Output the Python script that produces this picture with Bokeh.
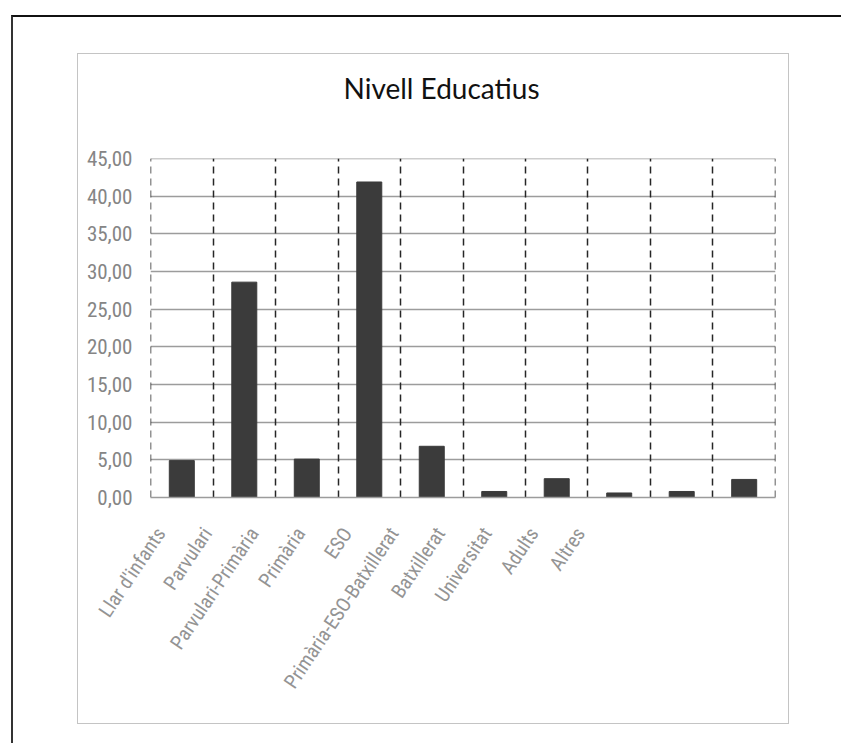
from bokeh.plotting import figure
from bokeh.layouts import column
from bokeh.models import Range1d, FixedTicker, Grid, LinearAxis, Title
from bokeh.embed import file_html
from bokeh.resources import INLINE

title_text = "Nivell Educatius"
categories = ["Llar d'infants", "Parvulari", "Parvulari-Primària", "Primària", "ESO",
              "Primària-ESO-Batxillerat", "Batxillerat", "Universitat", "Adults", "Altres"]
values = [4.9, 28.6, 5.1, 41.9, 6.8, 0.8, 2.5, 0.6, 0.8, 2.4]
y_ticks = [0, 5, 10, 15, 20, 25, 30, 35, 40, 45]

FONT = "'Roboto Condensed', 'Liberation Sans Narrow', 'DejaVu Sans Condensed', sans-serif"
TITLE_FONT = "Lato, 'Open Sans', sans-serif"

n = len(categories)
centers = [i + 0.5 for i in range(n)]
bounds = list(range(n + 1))
label_pos = list(range(n))

p = figure(width=712, height=671, output_backend="svg", toolbar_location=None,
           x_range=Range1d(-0.001, n + 0.001), y_range=Range1d(0, 45.02),
           x_axis_location=None,
           min_border_left=72, min_border_right=15, min_border_top=104, min_border_bottom=228)
# the scanned chart squeezes its category labels to the left of the bars
p.extra_x_ranges = {"labels": Range1d(-0.215, 13.19)}
p.styles = {"border": "1px solid #c4c4c4"}
p.margin = (36, 0, 0, 64)
p.outline_line_color = None

# spacer between title and plot area, then the title itself
p.add_layout(Title(text=" ", text_font_size="1px", standoff=46), "above")
p.add_layout(Title(text=title_text, align="left", offset=193, standoff=10,
                   text_font=TITLE_FONT, text_font_size="28px",
                   text_font_style="normal", text_color="#111111"), "above")

p.vbar(x=centers, top=values, width=0.4, color="#3b3b3b")

# y axis
p.yaxis.ticker = FixedTicker(ticks=y_ticks)
p.yaxis.major_label_overrides = {t: f"{t:.2f}".replace(".", ",") for t in y_ticks}
p.yaxis.major_label_text_font = FONT
p.yaxis.major_label_text_font_size = "21px"
p.yaxis.major_label_text_color = "#858585"
p.yaxis.axis_line_color = None
p.yaxis.major_tick_line_color = None
p.yaxis.minor_tick_line_color = None
p.yaxis.major_label_standoff = 12

# x axis with category labels
xax = LinearAxis(x_range_name="labels", ticker=FixedTicker(ticks=label_pos))
xax.major_label_overrides = {i: name for i, name in zip(label_pos, categories)}
xax.major_label_orientation = 0.98
xax.major_label_text_font = FONT
xax.major_label_text_font_size = "20px"
xax.major_label_text_font_style = "normal"
xax.major_label_text_color = "#949494"
xax.axis_line_color = "#9c9c9c"
xax.axis_line_width = 1.5
xax.major_tick_line_color = None
xax.minor_tick_line_color = None
xax.major_label_standoff = 26
p.add_layout(xax, "below")

p.xgrid.grid_line_color = None
p.ygrid.ticker = FixedTicker(ticks=y_ticks)
p.ygrid.grid_line_color = "#9c9c9c"
p.ygrid.grid_line_width = 1.5

vgrid = Grid(dimension=0, ticker=FixedTicker(ticks=bounds),
             grid_line_color="#262626", grid_line_dash="7 5", grid_line_width=1.5)
p.add_layout(vgrid)

outer = column(p, width=830, height=728, margin=(15, 0, 0, 11),
               styles={"border-top": "2px solid #111111", "border-left": "2px solid #333333"})

open("out.html", "w").write(file_html(outer, INLINE))
